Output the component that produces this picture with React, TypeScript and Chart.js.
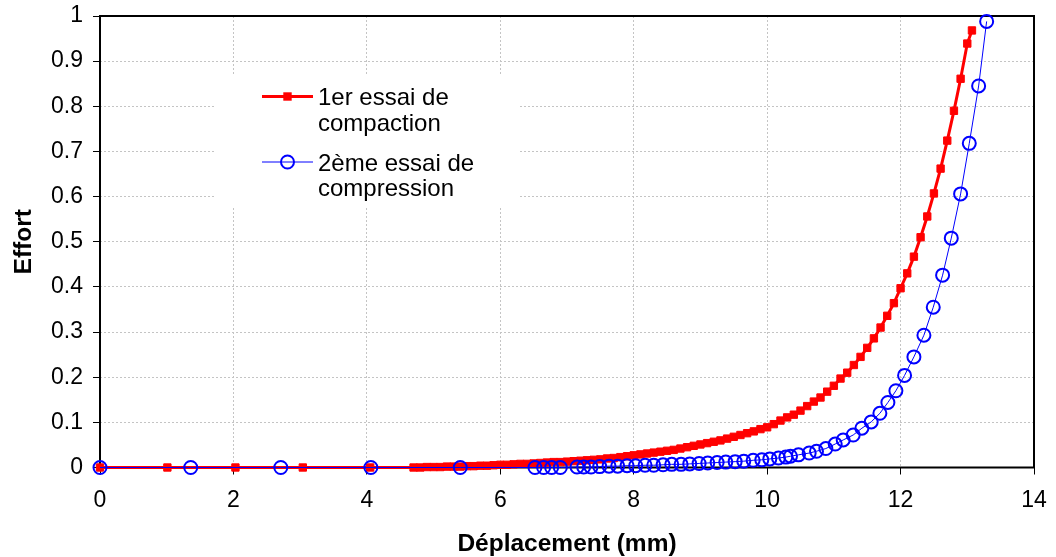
import React, { useEffect, useRef } from 'react';
import { Chart, registerables } from 'chart.js';

Chart.register(...registerables);

// ---- data ----
const redX = [
  0, 1.01, 2.03, 3.04, 4.05,
  4.7, 4.8, 4.9, 5.0, 5.1, 5.2, 5.3, 5.4, 5.5, 5.6,
  5.7, 5.8, 5.9, 6.0, 6.1, 6.2, 6.3, 6.4, 6.5, 6.6,
  6.7, 6.8, 6.9, 7.0, 7.1, 7.2, 7.3, 7.4, 7.5, 7.6,
  7.7, 7.8, 7.9, 8.0, 8.1, 8.2, 8.3, 8.4, 8.5, 8.6,
  8.7, 8.8, 8.9, 9.0, 9.1, 9.2, 9.3, 9.4, 9.5, 9.6,
  9.7, 9.8, 9.9, 10.0, 10.1, 10.2, 10.3, 10.4, 10.5, 10.6,
  10.7, 10.8, 10.9, 11.0, 11.1, 11.2, 11.3, 11.4, 11.5, 11.6,
  11.7, 11.8, 11.9, 12.0, 12.1, 12.2, 12.3, 12.4, 12.5, 12.6,
  12.7, 12.8, 12.9, 13.0, 13.07,
];
const redY = [
  0, 0, 0, 0, 0,
  0, 0, 0.001, 0.001, 0.001, 0.002, 0.002, 0.002, 0.003, 0.003,
  0.004, 0.004, 0.005, 0.006, 0.006, 0.007, 0.008, 0.008, 0.009, 0.010,
  0.011, 0.012, 0.012, 0.013, 0.014, 0.015, 0.016, 0.017, 0.018, 0.020,
  0.021, 0.023, 0.025, 0.027, 0.029, 0.031, 0.033, 0.035, 0.037, 0.039,
  0.042, 0.045, 0.048, 0.051, 0.054, 0.057, 0.060, 0.064, 0.068, 0.072,
  0.076, 0.080, 0.085, 0.089, 0.096, 0.104, 0.111, 0.117, 0.126, 0.136,
  0.146, 0.155, 0.168, 0.181, 0.197, 0.210, 0.227, 0.245, 0.265, 0.286,
  0.310, 0.336, 0.364, 0.397, 0.430, 0.467, 0.510, 0.556, 0.607, 0.662,
  0.724, 0.790, 0.861, 0.939, 0.968,
];
const blueX = [
  0, 1.36, 2.71, 4.06, 5.40,
  6.52, 6.65, 6.77, 6.90, 7.15, 7.25, 7.36, 7.49, 7.63, 7.76,
  7.90, 8.03, 8.17, 8.30, 8.44, 8.57, 8.71, 8.84, 8.98, 9.11,
  9.25, 9.38, 9.52, 9.65, 9.79, 9.92, 10.04, 10.17, 10.28, 10.35,
  10.47, 10.63, 10.74, 10.88, 11.02, 11.14, 11.29, 11.42, 11.56, 11.69,
  11.81, 11.93, 12.06, 12.20, 12.35, 12.49, 12.63, 12.76, 12.90, 13.03,
  13.17, 13.29,
];
const blueY = [
  0, 0, 0, 0, 0,
  0, 0, 0, 0, 0.001, 0.001, 0.001, 0.002, 0.003, 0.003,
  0.004, 0.004, 0.005, 0.005, 0.006, 0.007, 0.007, 0.008, 0.009, 0.010,
  0.011, 0.012, 0.013, 0.014, 0.016, 0.017, 0.019, 0.021, 0.023, 0.025,
  0.028, 0.032, 0.036, 0.042, 0.052, 0.061, 0.072, 0.087, 0.101, 0.120,
  0.144, 0.170, 0.204, 0.245, 0.293, 0.355, 0.426, 0.508, 0.606, 0.718,
  0.845, 0.988,
];
const xTickValues = [0, 2, 4, 6, 8, 10, 12, 14];
const xTickLabels = ['0', '2', '4', '6', '8', '10', '12', '14'];
const yTickValues = [0, 0.1, 0.2, 0.3, 0.4, 0.5, 0.6, 0.7, 0.8, 0.9, 1];
const yTickLabels = ['0', '0.1', '0.2', '0.3', '0.4', '0.5', '0.6', '0.7', '0.8', '0.9', '1'];
const redName = ['1er essai de', 'compaction'];
const blueName = ['2ème essai de', 'compression'];
const xTitle = 'Déplacement (mm)';
const yTitle = 'Effort';

const FONT = '"Liberation Sans", Arial, Helvetica, sans-serif';
const RED = '#ff0000';
const BLUE = '#0000ff';

const decorPlugin = {
  id: 'decor',
  beforeDatasetsDraw(chart: any) {
    const { ctx, chartArea: a } = chart;
    ctx.save();
    ctx.strokeStyle = '#000';
    ctx.lineWidth = 2;
    ctx.strokeRect(a.left, a.top, a.right - a.left, a.bottom - a.top);
    ctx.restore();
  },
  afterDatasetsDraw(chart: any) {
    const { ctx, chartArea: a } = chart;
    ctx.save();
    // legend box
    ctx.fillStyle = '#fff';
    ctx.fillRect(215, 75, 305, 133);
    // red entry
    ctx.strokeStyle = RED;
    ctx.lineWidth = 3;
    ctx.beginPath();
    ctx.moveTo(262, 96.5);
    ctx.lineTo(313, 96.5);
    ctx.stroke();
    ctx.fillStyle = RED;
    ctx.fillRect(283.3, 92.3, 8.4, 8.4);
    // blue entry
    ctx.strokeStyle = BLUE;
    ctx.lineWidth = 1;
    ctx.beginPath();
    ctx.moveTo(262, 162);
    ctx.lineTo(313, 162);
    ctx.stroke();
    ctx.lineWidth = 2;
    ctx.beginPath();
    ctx.arc(287.5, 162, 6.5, 0, Math.PI * 2);
    ctx.stroke();
    // legend texts
    ctx.fillStyle = '#000';
    ctx.font = `24px ${FONT}`;
    ctx.textAlign = 'left';
    ctx.textBaseline = 'alphabetic';
    ctx.fillText(redName[0], 318, 105);
    ctx.fillText(redName[1], 318, 130.5);
    ctx.fillText(blueName[0], 318, 170.5);
    ctx.fillText(blueName[1], 318, 196);
    // axis titles
    ctx.font = `bold 24.5px ${FONT}`;
    ctx.textAlign = 'center';
    ctx.textBaseline = 'middle';
    ctx.fillText(xTitle, (a.left + a.right) / 2, 544);
    ctx.translate(24, (a.top + a.bottom) / 2);
    ctx.rotate(-Math.PI / 2);
    ctx.fillText(yTitle, 0, 0);
    ctx.restore();
  },
};

export default function App() {
  const ref = useRef<HTMLCanvasElement | null>(null);
  useEffect(() => {
    if (!ref.current) return;
    const chart = new Chart(ref.current, {
      type: 'line',
      data: {
        datasets: [
          {
            label: redName.join(' '),
            data: redX.map((x, i) => ({ x, y: redY[i] })),
            borderColor: RED,
            borderWidth: 3,
            pointStyle: 'rect',
            pointRadius: 5.2,
            pointBackgroundColor: RED,
            pointBorderColor: RED,
            pointBorderWidth: 1,
            tension: 0,
            clip: false,
            order: 2,
          } as any,
          {
            label: blueName.join(' '),
            data: blueX.map((x, i) => ({ x, y: blueY[i] })),
            borderColor: BLUE,
            borderWidth: 1,
            pointStyle: 'circle',
            pointRadius: 6.5,
            pointBackgroundColor: 'rgba(0,0,0,0)',
            pointBorderColor: BLUE,
            pointBorderWidth: 2,
            tension: 0,
            clip: false,
            order: 1,
          } as any,
        ],
      },
      options: {
        responsive: false,
        maintainAspectRatio: false,
        animation: false,
        events: [],
        layout: { padding: { left: 0, right: 22, top: 16, bottom: 0 } },
        plugins: { legend: { display: false }, tooltip: { enabled: false } },
        scales: {
          x: {
            type: 'linear',
            min: 0,
            max: 14,
            afterFit: (s: any) => {
              s.height = 89.5;
              s.paddingLeft = 0;
              s.paddingRight = 0;
            },
            afterBuildTicks: (s: any) => { s.ticks = xTickValues.map((v) => ({ value: v })); },
            grid: { color: '#c4c4c4', lineWidth: 1, tickColor: '#000', tickLength: 7, tickWidth: 1 },
            border: { display: false, dash: [2, 2] },
            ticks: {
              callback: (_v: any, i: number) => xTickLabels[i],
              font: { family: FONT, size: 23 },
              color: '#000',
              padding: 12,
              maxRotation: 0,
              autoSkip: false,
            },
          },
          y: {
            type: 'linear',
            min: 0,
            max: 1,
            afterFit: (s: any) => {
              s.width = 100;
              s.paddingTop = 0;
              s.paddingBottom = 0;
            },
            afterBuildTicks: (s: any) => { s.ticks = yTickValues.map((v) => ({ value: v })); },
            grid: { color: '#c4c4c4', lineWidth: 1, tickColor: '#000', tickLength: 7, tickWidth: 1 },
            border: { display: false, dash: [2, 2] },
            ticks: {
              callback: (_v: any, i: number) => yTickLabels[i],
              font: { family: FONT, size: 23 },
              color: '#000',
              padding: 10,
              autoSkip: false,
            },
          },
        },
      } as any,
      plugins: [decorPlugin],
    });
    return () => chart.destroy();
  }, []);
  return (
    <div style={{ position: 'absolute', left: 0, top: 0, width: 1056, height: 557, background: '#fff' }}>
      <canvas ref={ref} width={1056} height={557} style={{ display: 'block' }} />
    </div>
  );
}
